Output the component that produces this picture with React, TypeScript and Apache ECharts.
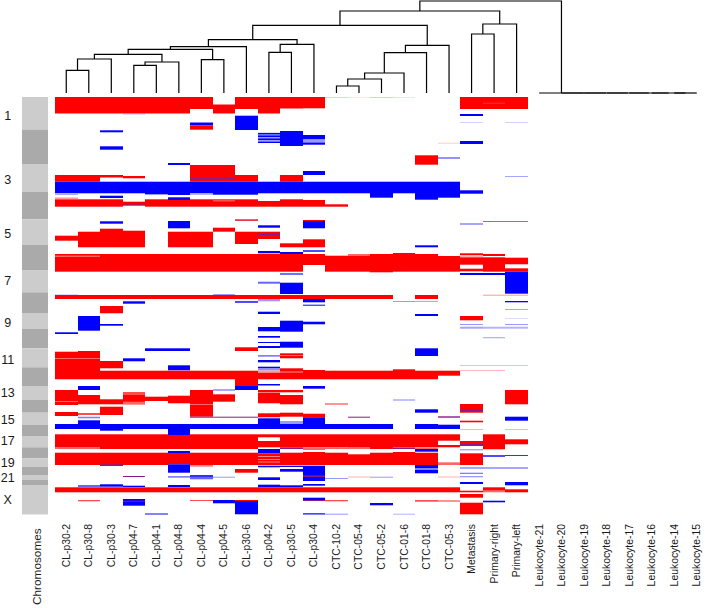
import React, { useEffect, useRef } from "react";
import * as echarts from "echarts";

type Seg = number[];
const P = 2; // purple overlap level

const samples = ["CL-p30-2","CL-p30-8","CL-p30-3","CL-p04-7","CL-p04-1","CL-p04-8","CL-p04-4","CL-p04-5","CL-p30-6","CL-p04-2","CL-p30-5","CL-p30-4","CTC-10-2","CTC-05-4","CTC-05-2","CTC-01-6","CTC-01-8","CTC-05-3","Metastasis","Primary-right","Primary-left","Leukocyte-21","Leukocyte-20","Leukocyte-19","Leukocyte-18","Leukocyte-17","Leukocyte-16","Leukocyte-14","Leukocyte-15"];

// genome position range
const posMin = 97, posMax = 515;

// chromosome bands
const chromStart = [97,129.5,164,192,219.3,245,270,292.3,313,329,348.3,367.3,386,400,412.7,424.7,436,447.3,458.3,466.7,475,480,485];
const chromEnd = [129.5,164,192,219.3,245,270,292.3,313,329,348.3,367.3,386,400,412.7,424.7,436,447.3,458.3,466.7,475,480,485,514.5];
const chromLabels = ["1","3","5","7","9","11","13","15","17","19","21","X"];
const chromLabelPos = [115.3,179,233.3,280.7,322.3,359.3,392,419,440.7,462.7,477.3,499.3];

// [start, end, level]
const c0: Seg[] = [[97,113.5,1],[175,181.7,1],[181.7,193.3,-1],[193.3,195,-.35],[197.5,199,.4],[199.3,206.7,1],[235.7,240.7,1],[254,271.7,1],[255.5,257,.6],[294.5,295,-.3],[295,299,1],[332.3,334,-1],[351.7,379.3,1],[358,359,.6],[390,405,1],[401,402,.6],[412,416,1],[424,429,-1],[434.3,449,1],[447,449,.6],[452.7,465,1],[487.3,492.3,1]];
const c1: Seg[] = [[97,113.5,1],[175,181.7,1],[181.7,193.3,-1],[199.3,206.7,1],[231.7,247.3,1],[254,271.7,1],[255.5,257,.6],[295,299,1],[316,330.7,-1],[351,379.3,1],[358,359,.6],[386,390,-1],[395,404.3,1],[413.3,414.7,1],[416.7,418.3,-.5],[420.3,429,-1],[434.3,449,1],[447,449,.6],[452.7,465,1],[485,487,-.6],[487.3,492.3,1],[500,501.3,.7]];
const c2: Seg[] = [[97,113.5,1],[130.3,132.3,-1],[146.3,149.7,-1],[175,177.5,1],[181.7,193.3,-1],[195.7,198,-1],[199.3,206.7,1],[221.3,223.7,-1],[228.7,247.3,1],[254,271.7,1],[295,299,1],[306,313.3,1],[324,325.7,-1],[361,368.3,1],[370.7,379.3,1],[399.3,404.3,1],[406.7,415,1],[424,430.7,-1],[434.3,449,1],[452.7,465,1],[464.3,466,P],[484.3,486.7,-1],[487.3,492.3,1]];
const c3: Seg[] = [[97,113.5,1],[113.5,114.3,-.5],[176,178.3,1],[181.7,193.3,-1],[201.7,205.7,1],[203.5,204.5,P],[230.7,247.3,1],[254,271.7,1],[295,299,1],[301.3,303.7,-1],[358.3,361.3,-1],[370.7,379.3,1],[392.3,404.3,1],[392.3,395,.7],[401.7,404.3,.6],[424,429,-1],[434.3,449,1],[452.7,465,1],[476,477,P],[485.7,487,-1],[487.3,492.3,1],[499,505.7,-1],[500.7,501.7,P]];
const c4: Seg[] = [[97,113.5,1],[181.7,194,-1],[194,195,-.4],[199.3,206.7,1],[254,271.7,1],[295,299,1],[348.3,351,-1],[370.7,379.3,1],[396.7,401,1],[424,429,-1],[434.3,449,1],[452.7,465,1],[487.3,492.3,1],[513.3,514.7,-.7]];
const c5: Seg[] = [[97,113.5,1],[163,165,-1],[181.7,195,-1],[197.3,200,-1],[200,206.7,1],[221,228.3,-1],[231.7,247.3,1],[254,271.7,1],[295,299,1],[348.3,351,-1],[365.3,370.3,-1],[370.7,379.3,1],[395.7,403.3,1],[424,435,-1],[435,449,1],[451,453,-1],[453,464.3,1],[464.3,472.7,-1],[476,477.7,-.5],[485,487,-1],[487.3,492.3,1]];
const c6: Seg[] = [[97,109,1],[122.5,125.5,-1],[125.5,129.7,1],[165,181.7,1],[178,179,P],[181.7,193.3,-1],[193.3,194.7,-.4],[199.3,206.7,1],[231.7,247.3,1],[254,271.7,1],[295,299,1],[370.7,379.3,1],[390,416.7,1],[404,405,.6],[416.7,417.7,P],[424,429,-1],[434.3,449,1],[452.7,465,1],[465,466.7,.5],[475.3,479.3,-.6],[475.3,476.5,-1],[487.3,492.3,1],[500,501,.7]];
const c7: Seg[] = [[104.5,113.5,1],[165,181.7,1],[178,179,P],[181.7,194.7,-1],[199.3,206.7,1],[199.3,201.5,.7],[227.7,231.7,1],[254,271.7,1],[294,295,-.4],[295,299,1],[370.7,379.3,1],[389.3,390.7,-.5],[394.3,401.7,1],[416.7,417.7,P],[424,429,-1],[434.3,449,1],[452.7,465,1],[476.7,477.7,-.4],[487.3,492.3,1],[500,503.3,-1]];
const c8: Seg[] = [[97,109,1],[115.7,130,-1],[175,181.7,1],[181.7,194.7,-1],[199.3,206.7,1],[219.5,220.3,-1],[220.3,221,1],[231.7,244,1],[254,271.7,1],[295,299,1],[301.3,302.7,-1],[347.3,351,1],[370.7,386,1],[386,390,-1],[416.7,417.7,P],[424,429,-1],[434.3,449,1],[452.7,465,1],[469,472.7,1],[487.3,492.3,1],[500,514.3,-1],[500,501,1]];
const c9: Seg[] = [[97,113.5,1],[132.7,143,-.4],[133,134.3,-1],[135.5,137,-1],[138.5,140,-1],[141.7,143,-1],[181.7,193.3,-1],[201,206.7,1],[225.3,227.7,-1],[231.7,239,1],[234,235,P],[251,253.3,-1],[254,271.7,1],[281.7,283.7,-.6],[295,299,1],[299,301.3,-.4],[311.7,314,-1],[327,331.3,-1],[336,337.7,-1],[342,343,-1],[346,348,-1],[355,356.7,-.5],[360,362.3,-1],[366.7,368,-1],[368,370.5,-.45],[370.5,372.7,.4],[372.7,379.3,1],[384,385.5,-1],[390,392.3,1],[392.7,403.3,1],[413.3,417.3,1],[418.3,429,-1],[434.3,437.3,1],[441,447.3,1],[449,453.3,-1],[453.3,465,1],[456,457,.5],[459,460,.5],[461.5,462.5,.5],[465.7,467.3,-1],[477.3,480,-1],[484.7,487.3,-1],[487.3,492.3,1]];
const c10: Seg[] = [[97,108.5,1],[131,146,-1],[175,181.7,1],[181.7,193.3,-1],[199.3,206.7,1],[243.3,247.3,1],[252,254,-1],[254,271.7,1],[273.3,274.7,-.8],[282.7,294,-1],[295,299,1],[320.7,331.7,-1],[341.7,347.7,-1],[353.3,358.3,1],[355,356,.6],[368.3,379.3,1],[371,373,.7],[390,392.3,1],[395,404.3,1],[412.7,416.7,1],[421,424,-.4],[424,429,-1],[434.3,447.3,1],[447.3,449,P],[452.7,465,1],[465.7,467,-1],[469,471.7,-1],[485.3,487.3,-1],[487.3,492.3,1]];
const c11: Seg[] = [[97,108.3,1],[135,139.5,-1],[142.3,144.7,-1],[139.5,142.3,-.4],[171,175,-1],[181.7,193.3,-1],[200,206.7,1],[220,221,1],[221,228.3,-1],[239.3,247.3,1],[250.3,251.7,-1],[254,265,1],[295,299,1],[299,302.3,-1],[304.7,305.7,-1],[321.7,324.3,-1],[370,379.3,1],[386,388.7,-1],[413.7,417.3,1],[417.3,429,-1],[434.3,447.3,1],[447.3,450,.6],[452,465,1],[465.7,481,-1],[475.5,477,P],[484,485.7,-1],[487.3,492.3,1],[497.7,500.7,-1],[500,501,P],[513,514.7,-.7]];
const c12: Seg[] = [[97,98,.2],[181.7,193.3,-1],[204.3,206.7,1],[255.7,271.7,1],[295,299,1],[370.7,379.3,1],[403.3,404.7,.6],[424,429,-1],[434.3,447.3,1],[447.3,449,.6],[452.7,465,1],[478,479,-.4],[487.3,492.3,1],[500,501.3,.7],[513.7,514.7,-.4]];
const c13: Seg[] = [[97,98,.1],[181.7,193.3,-1],[254,271.7,1],[254,256,.6],[295,299,1],[370.7,379.3,1],[416.7,417.7,P],[424,429,-1],[434.3,449,1],[447,449,.6],[454.3,465,1],[476.5,477.5,.3],[487.3,492.3,1]];
const c14: Seg[] = [[97,98,.25],[181.7,197.7,-1],[254,272.3,1],[295,299,1],[370.7,379.3,1],[424,429,-1],[434.3,449,1],[452.7,465,1],[476.7,477.7,-.4],[487.3,492.3,1],[503,505.3,-1]];
const c15: Seg[] = [[97,98,.12],[181.7,193.3,-1],[253,271.7,1],[301,302,.5],[369.3,379.3,1],[399.3,400.7,-.35],[434.3,447,1],[447.3,449,P],[452,465,1],[487.3,492.3,1],[513.7,514.7,-.3]];
const c16: Seg[] = [[155.3,164.7,1],[181.7,199.7,-1],[245.3,247.3,-1],[254,271.7,1],[295,299,1],[301,302,.4],[314,316,-1],[348.3,356,-1],[370.7,379.3,1],[409.3,412.7,-1],[424,429,-1],[434.3,447,1],[447.3,449,.6],[449,451.7,-1],[452.7,465,1],[465,473.3,-1],[468,470,-.5],[487.3,492.3,1],[500,501.7,.7]];
const c17: Seg[] = [[142.7,143.7,.2],[157.3,158.7,-.6],[181.7,197.7,-1],[256,271.7,1],[370.7,375.7,1],[416.3,417.7,P],[424.7,429,-1],[434.3,440.7,1],[445,447.3,1],[462.3,465,.6],[476.5,477.5,.3],[487.3,492.3,1],[500.3,501.7,.6]];
const c18: Seg[] = [[97,109,1],[114,116,-1],[122,122.7,-.25],[141,144,-1],[190.3,193.7,-1],[223,225,-.35],[253.3,255,1],[255,257,.3],[257.3,264.7,1],[268.7,271.3,1],[273,275,-1],[316,320.3,1],[324,325,-.4],[326.7,328.7,-.35],[365,365.7,-.3],[370,370.7,.4],[404,412.7,1],[409.5,411,P],[420.7,422.3,1],[429,430,.3],[441,446,1],[444,445,P],[449.3,450.3,-.5],[453.3,465,1],[455,456,P],[467.3,468.7,-.5],[472.7,474,-.5],[476,477.3,-.4],[482,484,-1],[490.7,492.3,1],[494,497.7,1],[502.7,514.3,1]];
const c19: Seg[] = [[97,109,1],[102.7,103.7,.8],[221,222,.7],[254,256,1],[257.3,271.7,1],[273,275,-1],[294.7,295.7,.4],[326.7,328.7,-.3],[337,338.3,-.3],[365,365.7,-.3],[370,370.7,.4],[434.3,449.3,1],[455.3,456.7,-1],[467.3,468.7,-.5],[487.3,490.7,1],[490.7,492.3,.6],[500.7,502.3,-1]];
const c20: Seg[] = [[97,109,1],[122,122.7,-.25],[176,176.7,-.5],[221,222,.7],[257.7,264.3,1],[268.3,271.7,1],[271.7,293.7,-1],[294.7,295.7,.4],[301,302.3,-1],[309,310,-.35],[318,318.7,-.2],[324,325,-.4],[326.7,328.7,-.3],[365,365.7,-.3],[390,404.3,1],[416.7,420.7,-1],[429,430,.3],[439.3,444.3,1],[455,456,-.8],[467.3,468.7,-.5],[482,485.3,-1],[489.3,492.3,1]];
const sampleSegs: Seg[][] = [c0,c1,c2,c3,c4,c5,c6,c7,c8,c9,c10,c11,c12,c13,c14,c15,c16,c17,c18,c19,c20];

// dendrogram merges, hclust style: [left, right, height]; >=0 leaf column, <0 earlier merge (1-based)
const merges: number[][] = [
  [0,1,22.7],[-1,2,34],[3,4,27.7],[-3,5,31],[-2,-4,38.7],[6,7,33.3],[-5,-6,43.7],[-7,8,46.3],
  [9,10,40.7],[-9,11,48.7],[-8,-10,53.3],[12,13,7],[-12,14,14],[-13,15,20],[-14,16,40.3],[-15,17,47.7],
  [-11,-16,67.7],[18,19,59],[-18,20,69],[-17,-19,82],
  [27,28,0],[26,-21,0],[25,-22,0],[24,-23,0],[23,-24,0],[22,-25,0],[21,-26,0],[-20,-27,92],
];

function levelColor(l: number): string {
  if (l === P) return "#8a1a8a";
  const t = Math.abs(l);
  const c = Math.round(255 * (1 - t));
  return l > 0 ? `rgb(255,${c},${c})` : `rgb(${c},${c},255)`;
}

function dendroLinks(): number[][] {
  const xs: number[] = [], hs: number[] = [];
  const pos = (n: number) => (n >= 0 ? n + 0.5 : xs[-n - 1]);
  const hgt = (n: number) => (n >= 0 ? 0 : hs[-n - 1]);
  return merges.map(([a, b, h]) => {
    const xa = pos(a), xb = pos(b);
    const row = [xa, hgt(a), xb, hgt(b), h];
    xs.push((xa + xb) / 2);
    hs.push(h);
    return row;
  });
}

export default function App() {
  const ref = useRef<HTMLDivElement>(null);
  useEffect(() => {
    const chart = echarts.init(ref.current!, undefined, { renderer: "svg" });
    const font = "Liberation Sans";
    const heatData: number[][] = [];
    sampleSegs.forEach((segs, i) => segs.forEach((s) => heatData.push([i, s[0], s[1], s[2]])));
    const bandData = chromStart.map((s, i) => [0, s, chromEnd[i], i]);
    const labelData = chromLabelPos.map((p, i) => [0, p, i]);
    chart.setOption({
      animation: false,
      backgroundColor: "#fff",
      grid: [
        { left: 55, width: 653, top: 0, height: 93 },
        { left: 55, width: 653, top: 97, height: 418 },
        { left: 22, width: 26, top: 97, height: 418 },
        { left: 24, width: 25.4, top: 97, height: 418 },
      ],
      xAxis: [
        { gridIndex: 0, type: "value", min: 0, max: 29, show: false },
        {
          gridIndex: 1, type: "category", data: samples,
          axisLine: { show: false }, axisTick: { show: false },
          axisLabel: { interval: 0, rotate: 90, margin: 9, fontSize: 10.4, fontFamily: font, color: "#1a1a1a" },
        },
        { gridIndex: 2, type: "category", data: [""], show: false },
        {
          gridIndex: 3, type: "category", data: ["Chromosomes"],
          axisLine: { show: false }, axisTick: { show: false },
          axisLabel: { interval: 0, rotate: 90, margin: 15, fontSize: 11.8, fontFamily: font, color: "#1a1a1a" },
        },
      ],
      yAxis: [
        { gridIndex: 0, type: "value", min: 0, max: 93, show: false },
        { gridIndex: 1, type: "value", min: posMin, max: posMax, inverse: true, show: false },
        { gridIndex: 2, type: "value", min: posMin, max: posMax, inverse: true, show: false },
        { gridIndex: 3, type: "value", min: posMin, max: posMax, inverse: true, show: false },
      ],
      series: [
        {
          type: "custom", xAxisIndex: 0, yAxisIndex: 0, data: dendroLinks(),
          renderItem: (_p: any, api: any) => {
            const a = api.coord([api.value(0), api.value(1)]);
            const t1 = api.coord([api.value(0), api.value(4)]);
            const t2 = api.coord([api.value(2), api.value(4)]);
            const b = api.coord([api.value(2), api.value(3)]);
            return { type: "polyline", shape: { points: [a, t1, t2, b] }, style: { stroke: "#000", lineWidth: 1.2, fill: "none" } };
          },
        },
        {
          type: "custom", xAxisIndex: 1, yAxisIndex: 1, data: heatData,
          renderItem: (_p: any, api: any) => {
            const top = api.coord([api.value(0), api.value(1)]);
            const bot = api.coord([api.value(0), api.value(2)]);
            const w = api.size([1, 0])[0];
            const x0 = Math.round(top[0] - w / 2);
            const x1 = Math.round(top[0] + w / 2);
            return {
              type: "rect",
              shape: { x: x0, y: top[1], width: x1 - x0, height: bot[1] - top[1] },
              style: { fill: levelColor(api.value(3)) },
            };
          },
        },
        {
          type: "custom", xAxisIndex: 2, yAxisIndex: 2, data: bandData,
          renderItem: (_p: any, api: any) => {
            const i = api.value(3);
            const top = api.coord([0, api.value(1)]);
            const bot = api.coord([0, api.value(2)]);
            const w = api.size([1, 0])[0];
            return {
              type: "rect",
              shape: { x: top[0] - w / 2, y: top[1], width: w, height: bot[1] - top[1] },
              style: { fill: i % 2 ? "#aaaaaa" : "#cccccc" },
            };
          },
        },
        {
          type: "custom", xAxisIndex: 2, yAxisIndex: 2, data: labelData,
          renderItem: (_p: any, api: any) => {
            const c = api.coord([0, api.value(1)]);
            const w = api.size([1, 0])[0];
            return {
              type: "text", x: c[0] - w / 2 - 14.3, y: c[1] + 0.5,
              style: { text: chromLabels[api.value(2)], fontSize: 12.5, fontFamily: font, fill: "#1a1a1a", align: "center", verticalAlign: "middle" },
            };
          },
        },
      ],
    });
    return () => chart.dispose();
  }, []);
  return <div ref={ref} style={{ position: "absolute", left: 0, top: 0, width: 708, height: 608 }} />;
}
